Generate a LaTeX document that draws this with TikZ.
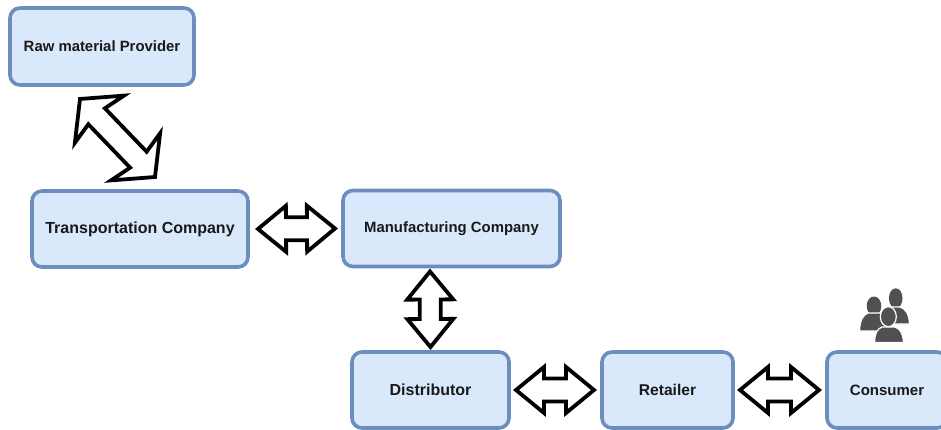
\documentclass[tikz,border=0pt]{standalone}
\usepackage{fontspec}
\setmainfont{Liberation Sans}
\usetikzlibrary{calc}
\definecolor{boxfill}{HTML}{DAE8FC}
\definecolor{boxline}{HTML}{6C8EBF}
\definecolor{icon}{HTML}{505050}
\tikzset{
  stagebox/.style={draw=boxline,fill=boxfill,line width=3.6pt,rounded corners=10pt,outer sep=0pt,inner sep=0pt,
    font=\bfseries,text=black!90},
  flexarrow/.style={draw=black,fill=white,line width=3.8pt,miter limit=10,line join=miter},
  person/.style={fill=icon,draw=white,line width=1.2pt},
}
% two-headed block arrow between two named coordinates
% #3 wing position along axis, #4 shaft start along axis, #5 wing half width, #6 shaft half width
\newcommand{\dblarrow}[6]{%
  \draw[flexarrow]
    (#1)
    -- ($(#1)!#3pt!(#2)!#5pt!90:(#2)$)
    -- ($(#1)!#4pt!(#2)!#6pt!90:(#2)$)
    -- ($(#2)!#4pt!(#1)!#6pt!-90:(#1)$)
    -- ($(#2)!#3pt!(#1)!#5pt!-90:(#1)$)
    -- (#2)
    -- ($(#2)!#3pt!(#1)!#5pt!90:(#1)$)
    -- ($(#2)!#4pt!(#1)!#6pt!90:(#1)$)
    -- ($(#1)!#4pt!(#2)!#6pt!-90:(#2)$)
    -- ($(#1)!#3pt!(#2)!#5pt!-90:(#2)$)
    -- cycle;}
\newcommand{\lbl}[2]{\raisebox{-1pt}{\fontsize{#1}{#1}\selectfont #2}}
\begin{document}
\begin{tikzpicture}[x=1pt,y=-1pt]
\useasboundingbox (0,0) rectangle (941,430);
\node[stagebox,minimum width=184pt,minimum height=77pt] (raw) at (102,46.5) {\lbl{14.9}{Raw material Provider}};
\node[stagebox,minimum width=216pt,minimum height=76pt] (trans) at (140,229) {\lbl{16}{Transportation Company}};
\node[stagebox,minimum width=217pt,minimum height=76pt] (manu) at (451.5,228.5) {\lbl{14.9}{Manufacturing Company}};
\node[stagebox,minimum width=157pt,minimum height=76pt] (dist) at (430.5,390) {\lbl{16}{Distributor}};
\node[stagebox,minimum width=131pt,minimum height=76pt] (ret) at (667.5,390) {\lbl{15.6}{Retailer}};
\node[stagebox,minimum width=120pt,minimum height=76pt] (cons) at (887,390) {};
\node[font=\bfseries,text=black!90,inner sep=0pt] (conslabel) at (887,390) {\lbl{15}{Consumer}};

\coordinate (a1) at ($(raw.south)+(-22,14)$);
\coordinate (a2) at ($(trans.north)+(15,-14)$);
\coordinate (b1) at ($(trans.east)+(10,0)$);
\coordinate (b2) at ($(manu.west)+(-8,0)$);
\coordinate (c1) at ($(manu.south)+(-21.5,5)$);
\coordinate (c2) at ($(dist.north)+(0,-5)$);
\coordinate (d1) at ($(dist.east)+(7,0)$);
\coordinate (d2) at ($(ret.west)+(-8,0)$);
\coordinate (e1) at ($(ret.east)+(7,0)$);
\coordinate (e2) at ($(cons.west)+(-8,0)$);

\dblarrow{a1}{a2}{28}{24}{34}{11.5}
\dblarrow{b1}{b2}{28}{28}{23}{11.5}
\dblarrow{c1}{c2}{28}{28}{23}{10.5}
\dblarrow{d1}{d2}{28}{28}{23}{11.5}
\dblarrow{e1}{e2}{28}{28}{23}{11.5}

% people icon
\fill[icon] (895.7,298.3) ellipse (6.8 and 10);
\draw[person] (882,324) .. controls (883,312) and (887,308) .. (891,307) -- (900,307) .. controls (906,309) and (909,314) .. (909.5,324) -- cycle;
\fill[icon] (874,306) ellipse (7.3 and 9.5);
\draw[person] (859.5,331) .. controls (860,320) and (863,315) .. (868,313) -- (880,313) .. controls (886,315) and (889,322) .. (889,331) -- cycle;
\draw[person] (888.3,316.7) ellipse (8 and 10);
\draw[person] (874.5,342.5) .. controls (875,333) and (877,329) .. (882,327) -- (895,327) .. controls (900,329) and (903,333) .. (903.5,342.5) -- cycle;
\end{tikzpicture}
\end{document}
